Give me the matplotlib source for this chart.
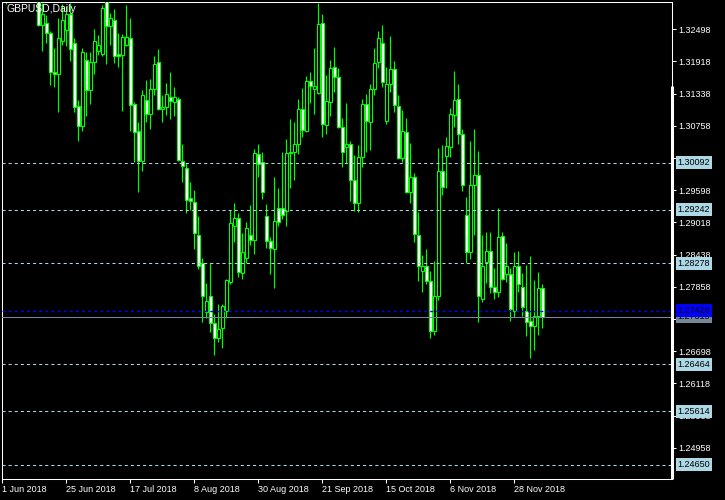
import numpy as np
import matplotlib.pyplot as plt

plt.rcParams['font.family'] = ['Liberation Sans', 'DejaVu Sans']

# GBPUSD daily bars from 1 Jun 2018 (first bars are above the visible range)
opens = [1.3300, 1.3340, 1.3355, 1.3375, 1.3420, 1.3425, 1.3410, 1.3390, 1.3370, 1.3400,
         1.3258, 1.3262, 1.3244, 1.3173, 1.3169, 1.3229, 1.3249, 1.3277, 1.3226, 1.3111,
         1.3076, 1.3194, 1.3141, 1.3190, 1.3211, 1.3206, 1.3305, 1.3256, 1.3266, 1.3205,
         1.3203, 1.3222, 1.3234, 1.3115, 1.3066, 1.3013, 1.3122, 1.3097, 1.3143, 1.3190,
         1.3107, 1.3109, 1.3128, 1.3119, 1.3125, 1.3013, 1.2999, 1.2945, 1.2939, 1.2879,
         1.2828, 1.2741, 1.2769, 1.2721, 1.2694, 1.2711, 1.2743, 1.2795, 1.2896, 1.2909,
         1.2810, 1.2837, 1.2879, 1.2871, 1.3025, 1.3011, 1.2914, 1.2868, 1.2853, 1.2927,
         1.2927, 1.2922, 1.3026, 1.3029, 1.3044, 1.3106, 1.3067, 1.3157, 1.3143, 1.3135,
         1.3261, 1.3077, 1.3119, 1.3181, 1.3163, 1.3073, 1.3038, 1.3043, 1.2978, 1.2937,
         1.3020, 1.3115, 1.3082, 1.3142, 1.3190, 1.3226, 1.3085, 1.3152, 1.3178, 1.3112,
         1.3017, 1.3064, 1.2956, 1.2983, 1.2879, 1.2815, 1.2824, 1.2797, 1.2707, 1.2769,
         1.2994, 1.3022, 1.3037, 1.3095, 1.3124, 1.3061, 1.2915, 1.2848, 1.2969, 1.2988,
         1.2764, 1.2830, 1.2850, 1.2786, 1.2777, 1.2877, 1.2808, 1.2808, 1.2743, 1.2823,
         1.2785, 1.2743, 1.2724, 1.2716, 1.2734, 1.2783]
highs = [1.3365, 1.3362, 1.3390, 1.3440, 1.3472, 1.3440, 1.3425, 1.3405, 1.3405, 1.3445,
         1.3297, 1.3276, 1.3247, 1.3217, 1.3270, 1.3295, 1.3291, 1.3297, 1.3234, 1.3122,
         1.3216, 1.3208, 1.3208, 1.3250, 1.3240, 1.3294, 1.3362, 1.3280, 1.3286, 1.3244,
         1.3241, 1.3293, 1.3270, 1.3119, 1.3083, 1.3140, 1.3158, 1.3160, 1.3202, 1.3214,
         1.3131, 1.3153, 1.3173, 1.3145, 1.3127, 1.3043, 1.3008, 1.2975, 1.2960, 1.2913,
         1.2837, 1.2792, 1.2828, 1.2737, 1.2755, 1.2755, 1.2799, 1.2925, 1.2937, 1.2918,
         1.2883, 1.2903, 1.2933, 1.3034, 1.3044, 1.3029, 1.2935, 1.2875, 1.2984, 1.2963,
         1.3028, 1.3052, 1.3088, 1.3082, 1.3124, 1.3144, 1.3165, 1.3173, 1.3216, 1.3298,
         1.3277, 1.3167, 1.3195, 1.3218, 1.3180, 1.3090, 1.3117, 1.3048, 1.3023, 1.3041,
         1.3124, 1.3133, 1.3151, 1.3216, 1.3246, 1.3258, 1.3182, 1.3238, 1.3193, 1.3131,
         1.3104, 1.3090, 1.3045, 1.2990, 1.2920, 1.2843, 1.2854, 1.2814, 1.2832, 1.3036,
         1.3041, 1.3055, 1.3108, 1.3175, 1.3151, 1.3070, 1.2948, 1.3049, 1.3071, 1.3031,
         1.2879, 1.2884, 1.2884, 1.2819, 1.2928, 1.2885, 1.2865, 1.2819, 1.2848, 1.2850,
         1.2810, 1.2825, 1.2841, 1.2798, 1.2812, 1.2791]
lows = [1.3294, 1.3295, 1.3310, 1.3360, 1.3395, 1.3380, 1.3375, 1.3340, 1.3350, 1.3256,
        1.3211, 1.3226, 1.3149, 1.3146, 1.3101, 1.3222, 1.3220, 1.3192, 1.3101, 1.3049,
        1.3067, 1.3094, 1.3115, 1.3169, 1.3204, 1.3202, 1.3187, 1.3222, 1.3189, 1.3181,
        1.3103, 1.3219, 1.3067, 1.3010, 1.2957, 1.2994, 1.3082, 1.3070, 1.3131, 1.3104,
        1.3082, 1.3095, 1.3088, 1.3094, 1.3013, 1.2975, 1.2919, 1.2924, 1.2853, 1.2817,
        1.2723, 1.2730, 1.2705, 1.2662, 1.2686, 1.2676, 1.2729, 1.2791, 1.2867, 1.2804,
        1.2799, 1.2829, 1.2861, 1.2845, 1.2984, 1.2944, 1.2855, 1.2809, 1.2784, 1.2895,
        1.2908, 1.2895, 1.2964, 1.2978, 1.3025, 1.3056, 1.3065, 1.3117, 1.3097, 1.3133,
        1.3055, 1.3061, 1.3094, 1.3137, 1.3072, 1.3001, 1.3008, 1.2940, 1.2923, 1.2921,
        1.3002, 1.3028, 1.3032, 1.3131, 1.3180, 1.3146, 1.3079, 1.3137, 1.3100, 1.3016,
        1.3010, 1.2954, 1.2937, 1.2867, 1.2797, 1.2777, 1.2791, 1.2694, 1.2699, 1.2762,
        1.2951, 1.2964, 1.3020, 1.3073, 1.3044, 1.2958, 1.2828, 1.2836, 1.2880, 1.2723,
        1.2759, 1.2792, 1.2775, 1.2764, 1.2767, 1.2798, 1.2795, 1.2725, 1.2732, 1.2776,
        1.2733, 1.2698, 1.2658, 1.2672, 1.2699, 1.2711]
closes = [1.3340, 1.3355, 1.3375, 1.3420, 1.3425, 1.3410, 1.3390, 1.3370, 1.3400, 1.3258,
          1.3277, 1.3244, 1.3173, 1.3169, 1.3234, 1.3266, 1.3277, 1.3215, 1.3110, 1.3076,
          1.3209, 1.3141, 1.3191, 1.3228, 1.3221, 1.3288, 1.3255, 1.3271, 1.3202, 1.3202,
          1.3236, 1.3236, 1.3114, 1.3065, 1.3013, 1.3131, 1.3098, 1.3143, 1.3187, 1.3107,
          1.3110, 1.3133, 1.3121, 1.3127, 1.3015, 1.3004, 1.2943, 1.2940, 1.2882, 1.2824,
          1.2770, 1.2760, 1.2721, 1.2694, 1.2710, 1.2751, 1.2798, 1.2900, 1.2909, 1.2813,
          1.2848, 1.2891, 1.2871, 1.3026, 1.3007, 1.2956, 1.2868, 1.2855, 1.2904, 1.2902,
          1.2915, 1.3026, 1.3029, 1.3044, 1.3106, 1.3069, 1.3157, 1.3147, 1.3148, 1.3259,
          1.3080, 1.3120, 1.3180, 1.3164, 1.3073, 1.3029, 1.3043, 1.2978, 1.2936, 1.3020,
          1.3115, 1.3085, 1.3143, 1.3189, 1.3234, 1.3154, 1.3151, 1.3178, 1.3113, 1.3017,
          1.3067, 1.2956, 1.2983, 1.2881, 1.2824, 1.2824, 1.2797, 1.2707, 1.2769, 1.2994,
          1.2965, 1.3040, 1.3097, 1.3122, 1.3061, 1.2970, 1.2848, 1.2969, 1.2987, 1.2769,
          1.2823, 1.2850, 1.2786, 1.2776, 1.2875, 1.2800, 1.2823, 1.2745, 1.2824, 1.2790,
          1.2749, 1.2723, 1.2716, 1.2734, 1.2783, 1.27315]

date_labels = ['1 Jun 2018', '25 Jun 2018', '17 Jul 2018', '8 Aug 2018', '30 Aug 2018',
               '21 Sep 2018', '15 Oct 2018', '6 Nov 2018', '28 Nov 2018']
price_ticks = [1.32498, 1.31918, 1.31338, 1.30758, 1.30178, 1.29598, 1.29018,
               1.28438, 1.27858, 1.27278, 1.26698, 1.26118, 1.25538, 1.24958]
hlines = [1.30092, 1.29242, 1.28278, 1.26464, 1.25614, 1.24650]
blue_line = 1.27428
bid = 1.27315

o = np.array(opens)
h = np.array(highs)
l = np.array(lows)
c = np.array(closes)
x = np.arange(len(o))

plt.rcParams['lines.scale_dashes'] = False

fig = plt.figure(figsize=(7.25, 5), dpi=100, facecolor='black')
ax = fig.add_axes([2 / 725, 21 / 500, 670 / 725, 477 / 500])
ax.set_facecolor('black')
ax.set_xlim(-0.1, 167.4)
ax.set_ylim(1.24394, 1.32990)

# candles: wick then body (bull = black body, bear = white body)
ax.vlines(x, l, h, color='#00ff00', lw=0.85, zorder=2)
fill = np.where(c >= o, 'black', 'white')
ax.bar(x, np.abs(c - o), bottom=np.minimum(o, c), width=0.62, color=fill,
       edgecolor='#00ff00', linewidth=0.8, zorder=3)

for lv in hlines:
    ax.axhline(lv, color='#add8e6', lw=0.75, ls=(0, (2.2, 2.2)), zorder=4)
ax.axhline(blue_line, color='#0000ff', lw=1.0, ls=(0, (2.2, 2.2)), zorder=4)
ax.axhline(bid, color='#778899', lw=0.75, zorder=4)

for s in ax.spines.values():
    s.set_color('white')
    s.set_linewidth(0.75)
# thicker part of the right border
ax.plot([1, 1], [1.24394, 1.3148], transform=ax.get_yaxis_transform(),
        color='white', lw=2.2, solid_capstyle='butt', clip_on=False, zorder=6)

ax.yaxis.tick_right()
ax.set_yticks(price_ticks)
ax.set_yticklabels(['%.5f' % p for p in price_ticks])
ax.tick_params(axis='y', colors='white', length=3, width=0.75, pad=1.5, labelsize=6.5)

ax.set_xticks(x[::16][:len(date_labels)])
ax.set_xticklabels(date_labels)
ax.tick_params(axis='x', colors='white', length=3, width=0.75, pad=1.5, labelsize=6.5)
for lab in ax.get_xticklabels():
    lab.set_ha('left')

def price_label(p, bg):
    ax.text(1.0085, p, '%.5f' % p, transform=ax.get_yaxis_transform(), ha='left', va='center',
            fontsize=6.5, color='black', clip_on=False, zorder=10,
            bbox=dict(boxstyle='square,pad=0.22', fc=bg, ec='none'))

for lv in hlines:
    price_label(lv, '#add8e6')
price_label(bid, '#778899')
price_label(blue_line, '#0000ff')

ax.text(0.007, 0.995, 'GBPUSD,Daily', transform=ax.transAxes, color='white',
        fontsize=7.5, ha='left', va='top')

fig.savefig('out.png', dpi=100, facecolor='black')
